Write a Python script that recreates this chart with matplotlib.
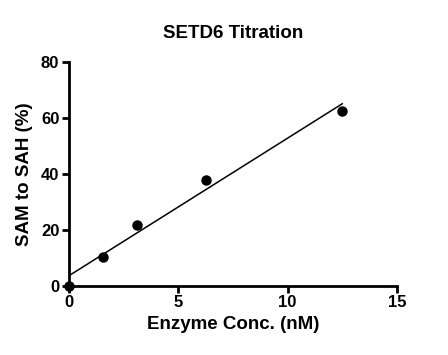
import numpy as np
import matplotlib.pyplot as plt

plt.rcParams['font.family'] = ['Liberation Sans', 'DejaVu Sans']
plt.rcParams['font.weight'] = 'bold'

conc = [0, 1.5625, 3.125, 6.25, 12.5]
sam_to_sah = [0, 10.4, 21.7, 37.6, 62.4]

fit_x = [0, 12.5]
fit_y = [3.6, 65.0]

fig = plt.figure(figsize=(4.48, 3.55), dpi=100)
ax = fig.add_axes([0.154, 0.195, 0.732, 0.631])

ax.plot(fit_x, fit_y, color='black', lw=1.1)
ax.plot(conc, sam_to_sah, 'o', color='black', ms=6.5, clip_on=False, zorder=3)

ax.set_xlim(0, 15)
ax.set_ylim(0, 80)
ax.set_xticks([0, 5, 10, 15])
ax.set_yticks([0, 20, 40, 60, 80])

for s in ['top', 'right']:
    ax.spines[s].set_visible(False)
for s in ['left', 'bottom']:
    ax.spines[s].set_linewidth(2)
ax.tick_params(width=2, length=5, labelsize=12, pad=2)
for lab in ax.get_xticklabels() + ax.get_yticklabels():
    lab.set_fontweight('bold')

ax.set_xlabel('Enzyme Conc. (nM)', fontsize=13.5, fontweight='bold', labelpad=4)
ax.set_ylabel('SAM to SAH (%)', fontsize=13.5, fontweight='bold', labelpad=6)
ax.set_title('SETD6 Titration', fontsize=13.5, fontweight='bold', pad=17)

fig.savefig('out.png', dpi=100)
